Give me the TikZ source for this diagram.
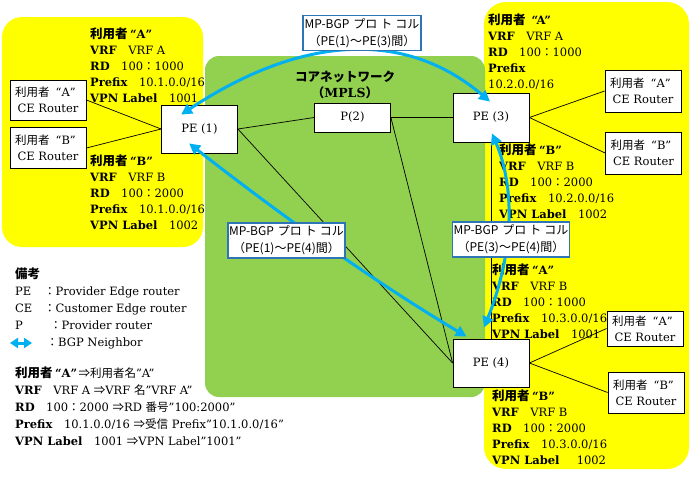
\documentclass[tikz,border=0pt]{standalone}
\usepackage{fontspec}
\setmainfont{DejaVu Serif}
\newfontfamily\jp{Noto Sans CJK JP}
\usetikzlibrary{arrows.meta,calc}
\definecolor{ylw}{HTML}{FFFF00}
\definecolor{grn}{HTML}{92D050}
\definecolor{bgpblue}{HTML}{00B0F0}
\definecolor{lblblue}{HTML}{2E75B6}
\newcommand\kvl[2]{\textbf{#1}\quad #2}
\newcommand\usr[1]{{\jp\bfseries\fontsize{12.5}{16}\selectfont 利用者}\textbf{\makebox[9pt][r]{“}#1\makebox[8pt][l]{”}}}
\newcommand\ceusr[1]{{\jp\fontsize{11.5}{15}\selectfont 利用者}\makebox[12pt][r]{“}#1\makebox[11pt][l]{”}}
\newcommand\fc{{\jp ：}}
\newcommand\mpbgp{{\jp MP-BGP\hspace{4pt}プロ\hspace{3pt}ト\hspace{3pt}コル}}
\tikzset{
 info/.style={anchor=north west, align=left, inner sep=0pt, font=\fontsize{11.5}{16}\selectfont},
 router/.style={draw=black, fill=white, line width=0.8pt, minimum width=76pt, minimum height=48pt, inner sep=1pt, font=\fontsize{11.5}{14}\selectfont},
 cebox/.style={draw=black, fill=white, line width=0.8pt, align=center, inner sep=1pt, minimum width=76pt, minimum height=40pt, font=\fontsize{11.5}{16}\selectfont},
 lbl/.style={draw=lblblue, line width=1.2pt, fill=white, align=center, inner sep=1pt, minimum width=116pt, minimum height=35pt, font=\fontsize{12}{17}\selectfont},
 link/.style={draw=black, line width=0.7pt},
 bgp/.style={draw=bgpblue, line width=3pt, arrows={Triangle[length=11pt,width=11pt]-Triangle[length=11pt,width=11pt]}},
}
\begin{document}
\begin{tikzpicture}[x=1pt,y=-1pt]
\useasboundingbox (0,0) rectangle (694,480);
\fill[white] (0,0) rectangle (694,480);
% backgrounds
\fill[ylw, rounded corners=20pt] (2,17) rectangle (203,247);
\fill[ylw, rounded corners=22pt] (484,2) rectangle (689,469);
\fill[grn, rounded corners=14pt] (205,56) rectangle (485,397);

% routers
\node[router] (pe1) at (199.5,129) {PE (1)};
\node[router, minimum height=29pt] (p2) at (352.5,117.5) {P(2)};
\node[router, minimum height=49pt] (pe3) at (491,117.5) {PE (3)};
\node[router] (pe4) at (491,363) {PE (4)};

% CE routers
\node[cebox] (ceA1) at (48,100) {\ceusr{A}\\CE Router};
\node[cebox, minimum height=41pt] (ceB1) at (48,148) {\ceusr{B}\\CE Router};
\node[cebox, minimum height=42pt] (ceA3) at (643,91) {\ceusr{A}\\CE Router};
\node[cebox, minimum height=42pt] (ceB3) at (643.5,153) {\ceusr{B}\\CE Router};
\node[cebox, minimum height=35pt] (ceA4) at (645,328.5) {\ceusr{A}\\CE Router};
\node[cebox, minimum height=41pt] (ceB4) at (646,392.5) {\ceusr{B}\\CE Router};

% links
\draw[link] (ceA1.east) -- (pe1.west);
\draw[link] (ceB1.east) -- (pe1.west);
\draw[link] (pe1.east) -- (p2.west);
\draw[link] (pe1.east) -- (pe4.west);
\draw[link] (p2.east) -- (pe3.west);
\draw[link] (p2.east) -- (pe4.west);
\draw[link] (pe3.south) -- (pe4.north);
\draw[link] (pe3.east) -- (ceA3.west);
\draw[link] (pe3.east) -- (ceB3.west);
\draw[link] (pe4.east) -- (ceA4.west);
\draw[link] (pe4.east) -- (ceB4.west);

% core title
\node[align=center, inner sep=0pt, font=\fontsize{12.5}{16}\selectfont] (core) at (345,85)
  {{\jp\bfseries コアネットワーク}\\{\jp\bfseries （}\textbf{MPLS}{\jp\bfseries ）}};

% info blocks
\node[info] (infoA1) at (90,28) {\usr{A}\\ \kvl{VRF}{VRF A}\\ \kvl{RD}{100\fc 1000}\\ \kvl{Prefix}{10.1.0.0/16}\\ \kvl{VPN Label}{1001}};
\node[info] (infoB1) at (90,155) {\usr{B}\\ \kvl{VRF}{VRF B}\\ \kvl{RD}{100\fc 2000}\\ \kvl{Prefix}{10.1.0.0/16}\\ \kvl{VPN Label}{1002}};
\node[info] (infoA3) at (488,14) {{\jp\bfseries\fontsize{12.5}{16}\selectfont 利用者}\hspace{6pt}\textbf{“A”}\\ \kvl{VRF}{VRF A}\\ \kvl{RD}{100\fc 1000}\\ \textbf{Prefix}\\ 10.2.0.0/16};
\node[info] (infoB3) at (499,144) {\usr{B}\\ \kvl{VRF}{VRF B}\\ \kvl{RD}{100\fc 2000}\\ \kvl{Prefix}{10.2.0.0/16}\\ \kvl{VPN Label}{1002}};
\node[info] (infoA4) at (492,264) {\usr{A}\\ \kvl{VRF}{VRF B}\\ \kvl{RD}{100\fc 1000}\\ \kvl{Prefix}{10.3.0.0/16}\\ \kvl{VPN Label}{1001}};
\node[info] (infoB4) at (492,390) {\usr{B}\\ \kvl{VRF}{VRF B}\\ \kvl{RD}{100\fc 2000}\\ \kvl{Prefix}{10.3.0.0/16}\\ \kvl{VPN Label}{\enspace 1002}};

% BGP neighbor arrows
\draw[bgp] ($(pe1.north west)+(20,10)$) .. controls (303,34) and (406,30) .. ($(pe3.north)+(-1,9)$);
\draw[bgp] ($(pe1.south west)+(28,-10)$) .. controls (283,217) and (375,282) .. ($(pe4.north west)+(14,-2)$);
\draw[bgp] ($(pe3.south)+(1,-9)$) .. controls (516,190) and (513,255) .. ($(pe4.north)+(-7,-11)$);

% labels
\node[lbl, minimum width=118pt] (lbl13) at (362,33) {\mpbgp\\{\jp （PE(1)～PE(3)間）}};
\node[lbl, minimum width=115pt] (lbl14) at (286.5,240.5) {\mpbgp\\{\jp （PE(1)～PE(4)間）}};
\node[lbl] (lbl34) at (511,239.5) {\mpbgp\\{\jp （PE(3)～PE(4)間）}};

% legend
\node[info, font=\fontsize{11.5}{17}\selectfont] (legend) at (15,268) {{\jp\bfseries\fontsize{12.5}{17}\selectfont 備考}\\
 \makebox[29pt][l]{PE}\fc Provider Edge router\\
 \makebox[29pt][l]{CE}\fc Customer Edge router\\
 \makebox[35pt][l]{P}\fc Provider router\\
 \makebox[31.5pt][l]{}\fc BGP Neighbor};
\coordinate (lgL) at (10,343);
\coordinate (lgR) at (32,343);
\draw[bgp, arrows={Triangle[length=8pt,width=10pt]-Triangle[length=8pt,width=10pt]}] (lgL) -- (lgR);

\node[info, font=\fontsize{11.5}{17}\selectfont] (example) at (15,367) {\usr{A}{\jp ⇒利用者名}”A”\\
 \kvl{VRF}{VRF A {\jp ⇒}VRF {\jp 名}”VRF A”}\\
 \kvl{RD}{100\fc 2000 {\jp ⇒}RD {\jp 番号}”100:2000”}\\
 \kvl{Prefix}{10.1.0.0/16 {\jp ⇒受信} Prefix”10.1.0.0/16”}\\
 \kvl{VPN Label}{1001 {\jp ⇒}VPN Label”1001”}};
\end{tikzpicture}
\end{document}
